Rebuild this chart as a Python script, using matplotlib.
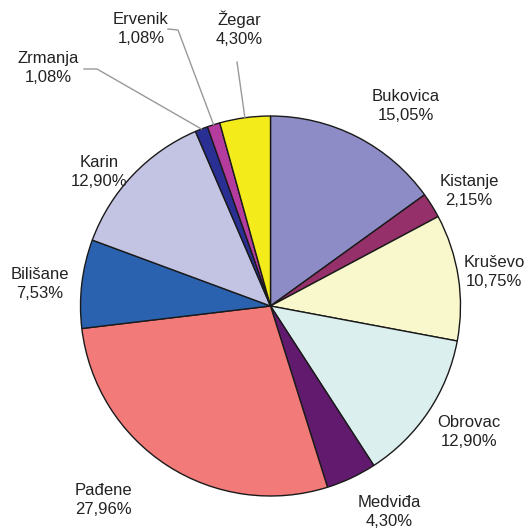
import numpy as np
import matplotlib.pyplot as plt

# podaci
names = ["Bukovica", "Kistanje", "Kruševo", "Obrovac", "Medviđa", "Pađene",
         "Bilišane", "Karin", "Zrmanja", "Ervenik", "Žegar"]
shares = [15.05, 2.15, 10.75, 12.90, 4.30, 27.96, 7.53, 12.90, 1.08, 1.08, 4.30]
colors = ["#8D8CC6", "#95306A", "#F9F7CC", "#DCEFEF", "#621A6E", "#F27A78",
          "#2B62B0", "#C3C3E3", "#2A2F94", "#B33C9E", "#F3EC1A"]

# položaji natpisa (px)
label_xy = [(406, 106), (469, 191), (494, 272), (469, 432), (389, 512), (103, 500),
            (40, 284), (99, 172), (48, 68), (141, 29), (239, 29)]
# natpisi s linijom: (početak linije)
leaders = {"Zrmanja": [(84, 69), (97, 69)],
           "Ervenik": [(168, 29), (178, 30)],
           "Žegar": [(237, 62)]}

cx, cy, R = 270.5, 306, 190

fig = plt.figure(figsize=(5.31, 5.32), dpi=100)
ax = fig.add_axes([0, 0, 1, 1])

# y os je okrenuta pa "counterclock" daje smjer kazaljke
wedges, _ = ax.pie(shares, colors=colors, startangle=-90, counterclock=True,
                   center=(cx, cy), radius=R, frame=True,
                   wedgeprops=dict(edgecolor="#1a1a1a", linewidth=1.0))
ax.set_xlim(0, 531)
ax.set_ylim(532, 0)
ax.set_aspect("equal")
ax.axis("off")

for w, name, val, (tx, ty) in zip(wedges, names, shares, label_xy):
    ax.text(tx, ty, f"{name}\n{val:.2f}%".replace(".", ","), ha="center", va="center",
            fontsize=12, family="Liberation Sans", color="#222222", linespacing=1.35)
    if name in leaders:
        ang = np.deg2rad((w.theta1 + w.theta2) / 2)
        ex = cx + R * np.cos(ang)
        ey = cy + R * np.sin(ang)
        pts = leaders[name] + [(ex, ey)]
        xs, ys = zip(*pts)
        ax.plot(xs, ys, color="#999999", lw=1.0)

fig.savefig("out.png", dpi=100)
